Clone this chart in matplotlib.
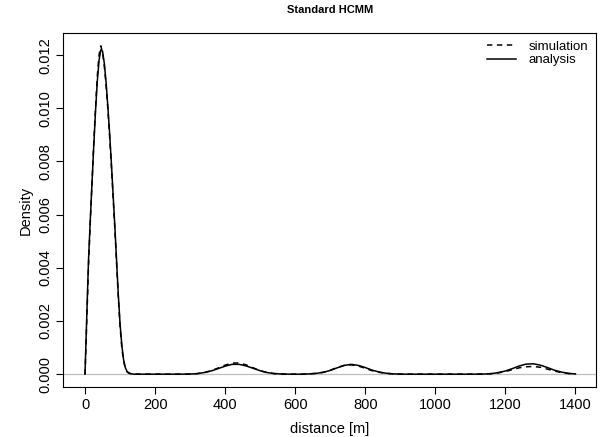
import matplotlib
matplotlib.use("Agg")
import matplotlib.pyplot as plt

plt.rcParams['font.family'] = ['Liberation Sans', 'DejaVu Sans']

# distance grid [m]
distance = list(range(0, 151, 5)) + list(range(160, 1401, 20))

# densities (x 1e-3)
analysis_peak = [0, 2.2, 4.3, 5.8, 7.2, 8.6, 9.9, 11.0, 11.8, 12.2, 12.15, 11.7, 11.0, 10.1,
                 9.1, 8.0, 6.8, 5.6, 4.3, 3.0, 1.9, 1.1, 0.55, 0.25, 0.1, 0.05, 0.02, 0.01,
                 0, 0, 0]
analysis_tail = [0, 0, 0, 0, 0, 0, 0.002, 0.006, 0.02, 0.06, 0.12, 0.21, 0.30, 0.37, 0.37,
                 0.31, 0.22, 0.13, 0.06, 0.025, 0.008, 0.002, 0,
                 0, 0.01, 0.03, 0.07, 0.14, 0.24, 0.33, 0.37, 0.33, 0.25, 0.15, 0.08, 0.035,
                 0.012, 0.003,
                 0, 0, 0, 0, 0, 0, 0, 0, 0, 0,
                 0.002, 0.006, 0.02, 0.06, 0.12, 0.21, 0.31, 0.38, 0.39, 0.34, 0.25, 0.15,
                 0.08, 0.03, 0.01]

simulation_peak = [0, 2.0, 4.1, 5.7, 7.2, 8.7, 10.0, 11.2, 12.0, 12.35, 12.1, 11.6, 10.9, 10.0,
                   9.0, 7.9, 6.7, 5.5, 4.2, 2.9, 1.8, 1.0, 0.5, 0.22, 0.09, 0.04, 0.015, 0.005,
                   0, 0, 0]
simulation_tail = [0, 0, 0, 0, 0, 0, 0.002, 0.006, 0.02, 0.06, 0.13, 0.23, 0.34, 0.42, 0.42,
                   0.35, 0.24, 0.13, 0.06, 0.02, 0.006, 0.002, 0,
                   0, 0.01, 0.03, 0.07, 0.15, 0.25, 0.33, 0.35, 0.31, 0.22, 0.13, 0.07, 0.03,
                   0.01, 0.003,
                   0, 0, 0, 0, 0, 0, 0, 0, 0, 0,
                   0.002, 0.006, 0.02, 0.05, 0.10, 0.17, 0.24, 0.28, 0.29, 0.26, 0.19, 0.12,
                   0.06, 0.025, 0.01]

analysis = [v * 1e-3 for v in analysis_peak + analysis_tail]
simulation = [v * 1e-3 for v in simulation_peak + simulation_tail]

x_ticks = [0, 200, 400, 600, 800, 1000, 1200, 1400]
y_ticks = [0.000, 0.002, 0.004, 0.006, 0.008, 0.010, 0.012]

fig = plt.figure(figsize=(6.11, 4.37), dpi=100)
ax = fig.add_axes([0.1036, 0.1137, 0.975 - 0.1036, 0.9252 - 0.1137])

ax.axhline(0, color='#BEBEBE', lw=0.9, zorder=1)
ax.plot(distance, simulation, color='black', lw=1.1, dashes=(3.5, 3), label='simulation', zorder=3)
ax.plot(distance, analysis, color='black', lw=1.1, label='analysis', zorder=2)

ax.set_xlim(-62, 1458)
ax.set_ylim(-0.000494, 0.012845)
ax.set_xticks(x_ticks)
ax.set_xticklabels([str(t) for t in x_ticks])
ax.set_yticks(y_ticks)
ax.set_yticklabels([f"{t:.3f}" for t in y_ticks])
ax.tick_params(axis='both', direction='out', length=5, width=0.8, labelsize=10.5, pad=3)
ax.tick_params(axis='y', labelrotation=90)
for lbl in ax.get_yticklabels():
    lbl.set_va('center')
for s in ax.spines.values():
    s.set_linewidth(0.8)

ax.set_xlabel('distance [m]', fontsize=10.5, labelpad=7)
ax.set_ylabel('Density', fontsize=10.5, labelpad=4)
fig.text(0.5395, 0.978, 'Standard HCMM', ha='center', va='center', fontsize=8, fontweight='bold')

leg = ax.legend(loc='upper right', frameon=False, fontsize=9.5, handlelength=2.2,
                handletextpad=0.9, labelspacing=0.1, borderaxespad=0.2,
                bbox_to_anchor=(1.0, 1.0))

fig.savefig('out.png', dpi=100)
